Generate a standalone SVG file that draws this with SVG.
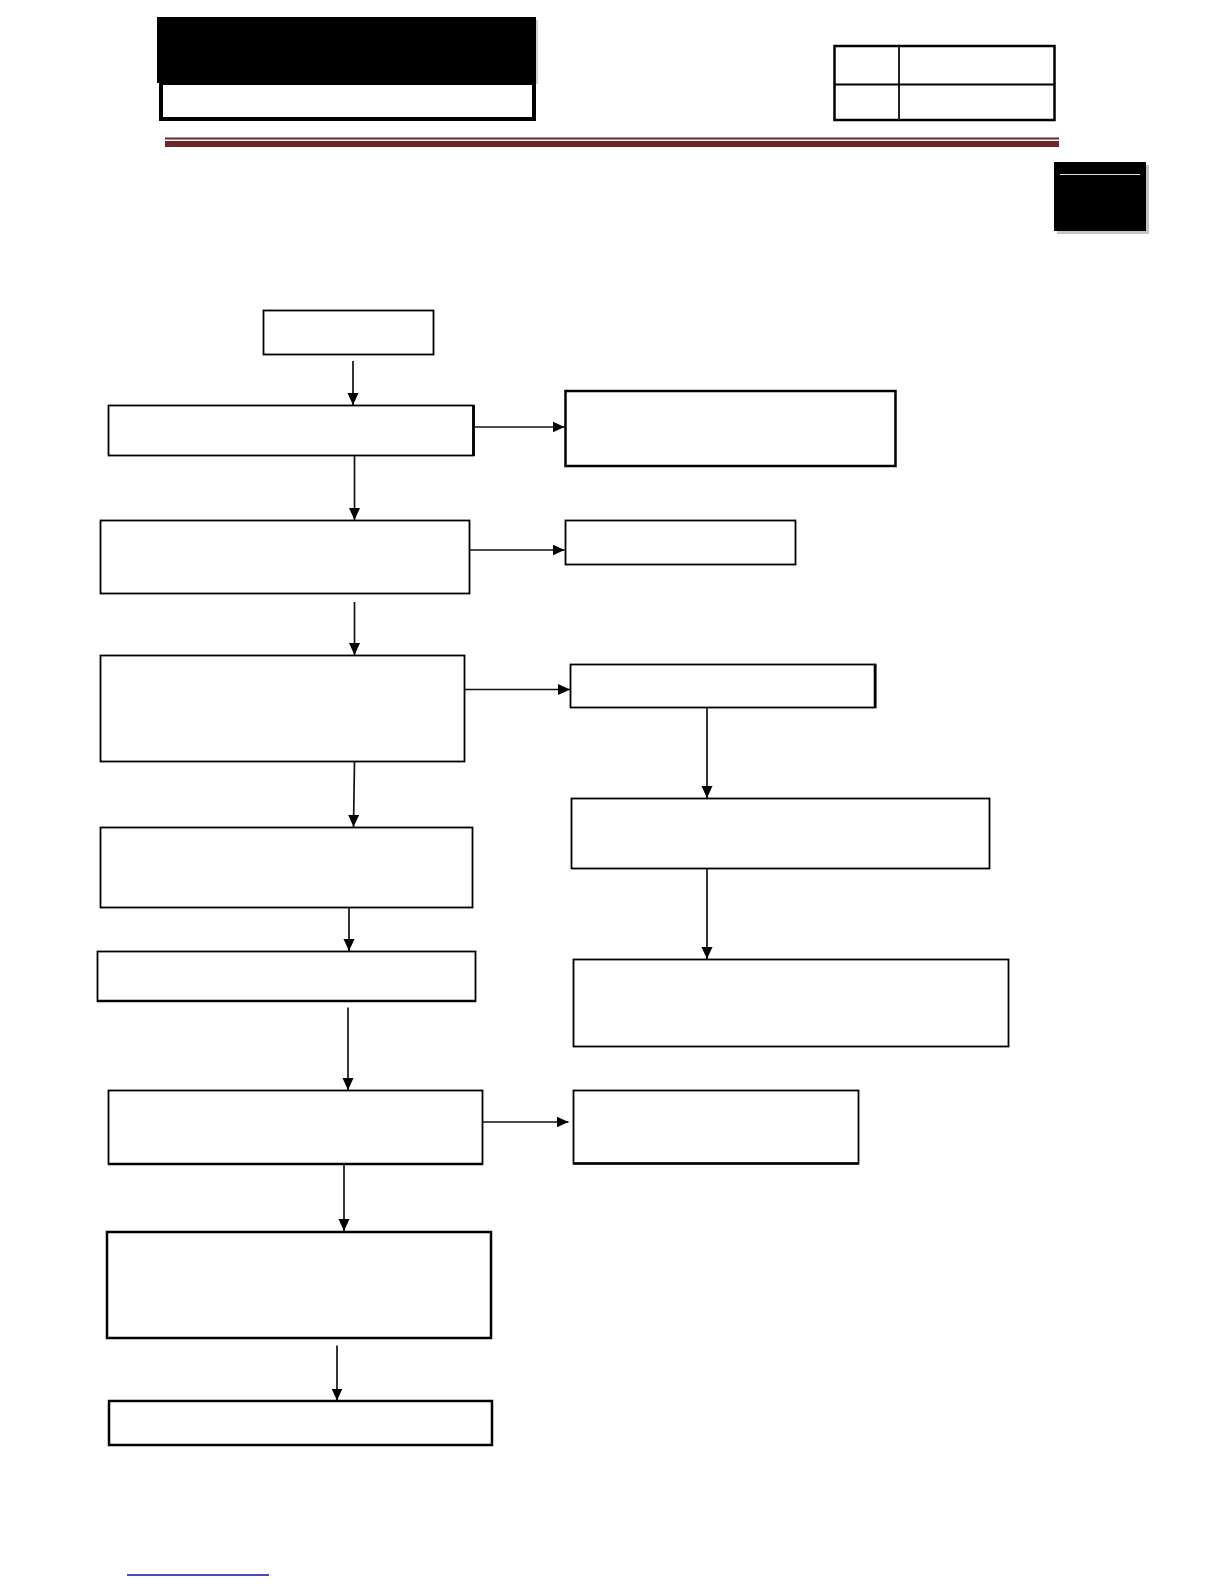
<svg xmlns="http://www.w3.org/2000/svg" width="1224" height="1584" viewBox="0 0 1224 1584">
<style>
.box{fill:#fff;stroke:#000;stroke-width:1.8}
.thick{fill:#fff;stroke:#000;stroke-width:2.5}
.edge{fill:none;stroke:#111;stroke-width:1.7}
</style>
<defs>
<marker id="ah" markerUnits="userSpaceOnUse" markerWidth="14" markerHeight="14" viewBox="0 0 14 14" refX="12" refY="7" orient="auto">
<path d="M0,1.5 L12,7 L0,12.5 Z" fill="#000"/>
</marker>
</defs>
<rect x="0" y="0" width="1224" height="1584" fill="#fff"/>
<g id="header">
<rect x="536" y="20" width="2" height="64" fill="#cfcfcf"/>
<rect x="157" y="17" width="379" height="66" fill="#000"/>
<rect x="161" y="83" width="373" height="36" fill="#fff" stroke="#000" stroke-width="4"/>
<rect x="165" y="137.5" width="894" height="2" fill="#6e2626"/>
<rect x="165" y="141" width="894" height="6" fill="#6e2626"/>
</g>
<g id="info-table">
<rect x="834.5" y="46" width="220" height="74" fill="#fff" stroke="#000" stroke-width="2.5"/>
<line x1="899" y1="46" x2="899" y2="120" stroke="#222" stroke-width="2"/>
<line x1="834.5" y1="84.5" x2="1054.5" y2="84.5" stroke="#000" stroke-width="2"/>
</g>
<g id="tab">
<rect x="1057" y="165" width="92" height="69" fill="#c4c4c4"/>
<rect x="1054" y="162" width="92" height="69" fill="#000"/>
<line x1="1060" y1="174.5" x2="1140" y2="174.5" stroke="#ddd" stroke-width="1.2"/>
</g>
<g id="connectors">
<line class="edge" x1="353" y1="361" x2="353" y2="405" marker-end="url(#ah)"/>
<line class="edge" x1="354.5" y1="456" x2="354.5" y2="520" marker-end="url(#ah)"/>
<line class="edge" x1="475" y1="427" x2="564.5" y2="427" marker-end="url(#ah)"/>
<line class="edge" x1="470" y1="550" x2="564.5" y2="550" marker-end="url(#ah)"/>
<line class="edge" x1="354.5" y1="602" x2="354.5" y2="655" marker-end="url(#ah)"/>
<line class="edge" x1="465" y1="689.5" x2="570" y2="689.5" marker-end="url(#ah)"/>
<line class="edge" x1="354.5" y1="761.5" x2="353.5" y2="827" marker-end="url(#ah)"/>
<line class="edge" x1="349" y1="907.5" x2="349" y2="951" marker-end="url(#ah)"/>
<line class="edge" x1="348" y1="1007.5" x2="348" y2="1090" marker-end="url(#ah)"/>
<line class="edge" x1="480" y1="1122" x2="568.5" y2="1122" marker-end="url(#ah)"/>
<line class="edge" x1="344" y1="1164.5" x2="344" y2="1231" marker-end="url(#ah)"/>
<line class="edge" x1="337" y1="1345.5" x2="337" y2="1400.5" marker-end="url(#ah)"/>
<line class="edge" x1="707" y1="705" x2="707" y2="798" marker-end="url(#ah)"/>
<line class="edge" x1="707" y1="868.5" x2="707" y2="959" marker-end="url(#ah)"/>
</g>
<g id="n1"><rect class="box" x="263.5" y="310.5" width="170" height="44"/></g>
<g id="n2"><rect class="box" x="108.5" y="405.5" width="365" height="50"/><line x1="473.5" y1="405" x2="473.5" y2="456" stroke="#000" stroke-width="2.8"/></g>
<g id="n3"><rect class="box" x="100.5" y="520.5" width="369" height="73"/></g>
<g id="n4"><rect class="box" x="100.5" y="655.5" width="364" height="106"/></g>
<g id="n5"><rect class="box" x="100.5" y="827.5" width="372" height="80"/></g>
<g id="n6"><rect class="box" x="97.5" y="951.5" width="378" height="49.5"/><line x1="97" y1="1001" x2="476" y2="1001" stroke="#000" stroke-width="2.6"/></g>
<g id="n7"><rect class="box" x="108.5" y="1090.5" width="374" height="73.5"/><line x1="108" y1="1164" x2="483" y2="1164" stroke="#000" stroke-width="2.4"/></g>
<g id="n8"><rect class="thick" x="107" y="1232" width="384" height="106"/></g>
<g id="n9"><rect class="thick" x="109" y="1401" width="383" height="44"/></g>
<g id="r1"><rect class="thick" x="565.5" y="391" width="330" height="75"/></g>
<g id="r2"><rect class="box" x="565.5" y="520.5" width="230" height="44"/></g>
<g id="r3"><rect class="box" x="570.5" y="664.5" width="305" height="43"/><line x1="875" y1="664" x2="875" y2="708" stroke="#000" stroke-width="2.6"/></g>
<g id="r4"><rect class="box" x="571.5" y="798.5" width="418" height="70"/></g>
<g id="r5"><rect class="box" x="573.5" y="959.5" width="435" height="87"/></g>
<g id="r6"><rect class="box" x="573.5" y="1090.5" width="285" height="73"/><line x1="573" y1="1163.5" x2="859" y2="1163.5" stroke="#000" stroke-width="2.4"/></g>
<g id="footer"><line x1="127" y1="1575" x2="269" y2="1575" stroke="#10109a" stroke-width="1.4"/></g>
</svg>
